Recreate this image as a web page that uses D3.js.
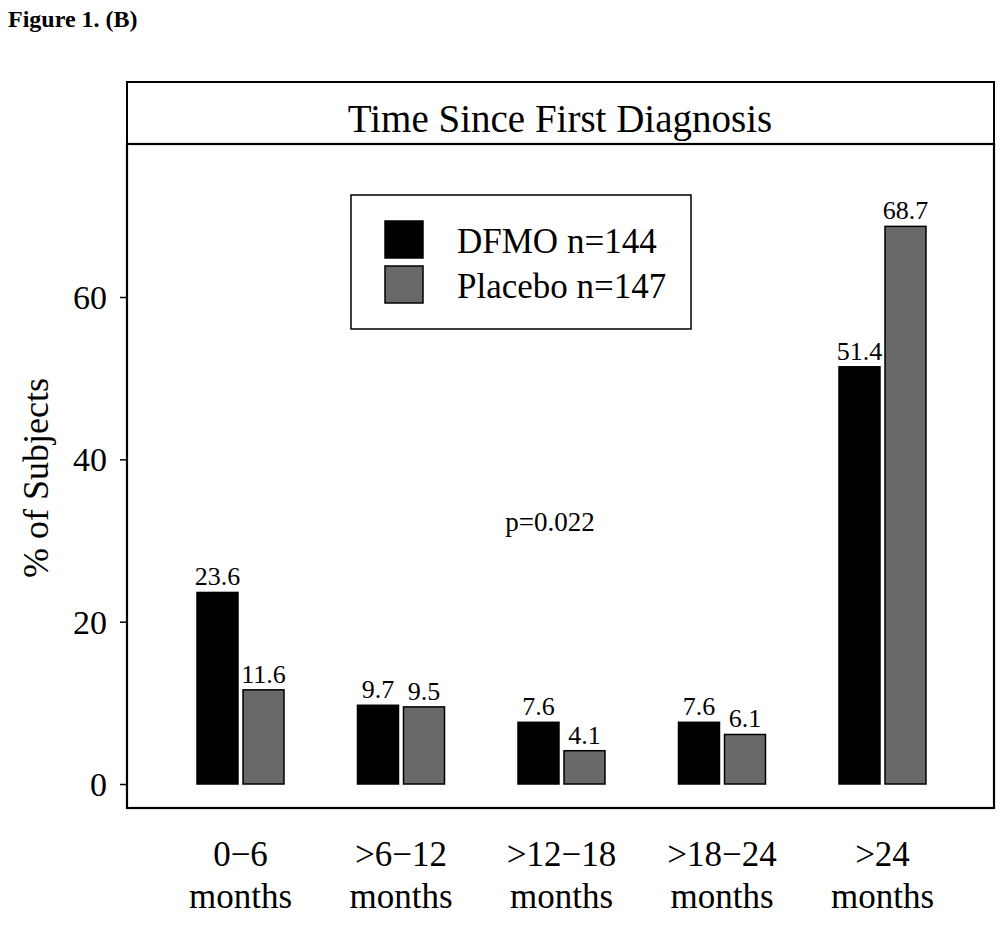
<!DOCTYPE html>
<html><head><meta charset="utf-8">
<script src="https://cdn.jsdelivr.net/npm/d3@7"></script>
<style>body{margin:0;background:#fff}</style>
</head><body>
<svg id="c" width="1007" height="932"></svg>
<script>
const categoriesTop = ["0\u22126", ">6\u221212", ">12\u221218", ">18\u221224", ">24"];
const categoriesBottom = ["months", "months", "months", "months", "months"];
const series = ["DFMO n=144", "Placebo n=147"];
const dfmo = [23.6, 9.7, 7.6, 7.6, 51.4];
const placebo = [11.6, 9.5, 4.1, 6.1, 68.7];
const yTicks = [0, 20, 40, 60];
const colors = ["#000000", "#696969"];

const svg = d3.select("#c");
const font = "'Liberation Serif', 'Times New Roman', serif";
const box = {l:127, r:994, t:82, strip:144, b:808};

const x = d3.scaleBand().domain(d3.range(5)).range([160.25, 962.75]).paddingInner(0.458).paddingOuter(0.229);
const xi = d3.scaleBand().domain([0,1]).range([0, x.bandwidth()]).paddingInner(0.109).paddingOuter(0);
const y = d3.scaleLinear().domain([0, 60]).range([784, 297]);

svg.append("text").attr("x", 8).attr("y", 27).attr("font-family", font).attr("font-weight", "bold")
  .attr("font-size", 24).text("Figure 1. (B)");

// strip
svg.append("rect").attr("x", box.l).attr("y", box.t).attr("width", box.r-box.l).attr("height", box.strip-box.t)
  .attr("fill", "#fff").attr("stroke", "#000").attr("stroke-width", 2);
svg.append("text").attr("x", 560).attr("y", 132).attr("text-anchor", "middle")
  .attr("font-family", font).attr("font-size", 39).text("Time Since First Diagnosis");
// panel
svg.append("rect").attr("x", box.l).attr("y", box.strip).attr("width", box.r-box.l).attr("height", box.b-box.strip)
  .attr("fill", "none").attr("stroke", "#000").attr("stroke-width", 2.2);

// y axis
const yAxis = d3.axisLeft(y).tickValues(yTicks).tickSize(7).tickPadding(13);
const ga = svg.append("g").attr("transform", `translate(${box.l},0)`).call(yAxis);
ga.select(".domain").remove();
ga.selectAll("line").attr("stroke-width", 1.5);
ga.selectAll("text").attr("font-family", font).attr("font-size", 34).attr("fill", "#000").attr("dy", "0.34em");

svg.append("text").attr("transform", "translate(48,478) rotate(-90)").attr("text-anchor", "middle")
  .attr("font-family", font).attr("font-size", 36).text("% of Subjects");

// bars
const data = [dfmo, placebo];
data.forEach((vals, s) => {
  const g = svg.append("g");
  g.selectAll("rect").data(vals).join("rect")
    .attr("x", (d,i) => x(i) + xi(s))
    .attr("y", d => y(d))
    .attr("width", xi.bandwidth())
    .attr("height", d => y(0) - y(d))
    .attr("fill", colors[s]).attr("stroke", "#000").attr("stroke-width", 1.5);
  g.selectAll("text").data(vals).join("text")
    .attr("x", (d,i) => x(i) + xi(s) + xi.bandwidth()/2)
    .attr("y", d => y(d) - 7)
    .attr("text-anchor", "middle").attr("font-family", font).attr("font-size", 26)
    .text(d => d.toFixed(1));
});

// x labels
categoriesTop.forEach((c, i) => {
  const cx = x(i) + x.bandwidth()/2;
  svg.append("text").attr("x", cx).attr("y", 866).attr("text-anchor", "middle")
    .attr("font-family", font).attr("font-size", 35).text(c);
  svg.append("text").attr("x", cx).attr("y", 908).attr("text-anchor", "middle")
    .attr("font-family", font).attr("font-size", 35).text(categoriesBottom[i]);
});

// legend
svg.append("rect").attr("x", 351).attr("y", 195).attr("width", 340).attr("height", 134)
  .attr("fill", "#fff").attr("stroke", "#000").attr("stroke-width", 1.5);
series.forEach((s, i) => {
  svg.append("rect").attr("x", 385).attr("y", 221 + i*45).attr("width", 38).attr("height", 37)
    .attr("fill", colors[i]).attr("stroke", "#000").attr("stroke-width", 1.5);
  svg.append("text").attr("x", 457).attr("y", 253 + i*45).attr("font-family", font).attr("font-size", 35).text(s);
});

svg.append("text").attr("x", 550).attr("y", 531).attr("text-anchor", "middle")
  .attr("font-family", font).attr("font-size", 27).text("p=0.022");
</script>
</body></html>
